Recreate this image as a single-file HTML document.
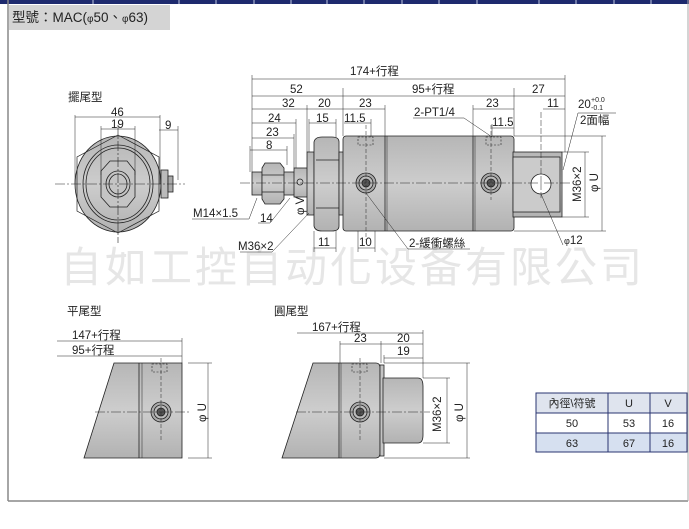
<!DOCTYPE html>
<html><head><meta charset="utf-8"><style>
html,body{margin:0;padding:0;background:#fff;}
svg{display:block;}
text{font-family:"Liberation Sans","Noto Sans CJK TC",sans-serif;fill:#222;}
</style></head><body>
<svg width="689" height="529" viewBox="0 0 689 529" xmlns="http://www.w3.org/2000/svg">
<defs>
<linearGradient id="g" x1="0" y1="0" x2="0" y2="1"><stop offset="0" stop-color="#b6b6b6"/><stop offset=".5" stop-color="#cdcdcd"/><stop offset="1" stop-color="#b2b2b2"/></linearGradient>
</defs>
<rect x="0" y="0" width="689" height="4" fill="#1e2a6e"/>
<g stroke="#c0c8e0" stroke-width="1">
<line x1="93" y1="0" x2="93" y2="4"/><line x1="179" y1="0" x2="179" y2="4"/><line x1="216" y1="0" x2="216" y2="4"/><line x1="254" y1="0" x2="254" y2="4"/><line x1="291" y1="0" x2="291" y2="4"/><line x1="327" y1="0" x2="327" y2="4"/><line x1="364" y1="0" x2="364" y2="4"/><line x1="402" y1="0" x2="402" y2="4"/><line x1="439" y1="0" x2="439" y2="4"/><line x1="477" y1="0" x2="477" y2="4"/><line x1="539" y1="0" x2="539" y2="4"/><line x1="576" y1="0" x2="576" y2="4"/><line x1="614" y1="0" x2="614" y2="4"/><line x1="651" y1="0" x2="651" y2="4"/>
</g>
<line x1="8" y1="0" x2="8" y2="501" stroke="#888" stroke-width="1.5"/>
<line x1="8" y1="501" x2="688" y2="501" stroke="#888" stroke-width="1.5"/>
<line x1="688" y1="0" x2="688" y2="501" stroke="#aaa" stroke-width="1"/>
<rect x="9" y="5" width="161" height="25" fill="#d4d4d4"/>
<text x="12" y="22" font-size="13.5">型號：MAC(<tspan font-size="10">φ</tspan>50、<tspan font-size="10">φ</tspan>63)</text>

<text x="60" y="282" font-size="42" style="fill:#e6e6e6" letter-spacing="3">自如工控自动化设备有限公司</text>

<g stroke="#222" stroke-width="0.8" fill="none">
<ellipse cx="118" cy="184" rx="43" ry="48" fill="url(#g)"/>
<polygon points="118,135 159,157 159,211 118,233 77,211 77,157" stroke-width="0.7"/>
<ellipse cx="118" cy="184" rx="35" ry="39"/>
<ellipse cx="118" cy="184" rx="32" ry="36"/>
<polygon points="101,171 110,161 127,161 135,171 135,197 127,207 110,207 101,197" fill="#c4c4c4"/>
<ellipse cx="118" cy="184" rx="12" ry="13"/>
<ellipse cx="118" cy="184" rx="9" ry="10"/>
<rect x="161" y="170" width="7" height="28" fill="#bbb"/>
<rect x="168" y="176" width="5" height="16" fill="#aaa"/>
<line x1="55" y1="184" x2="185" y2="184" stroke-dasharray="10,2,2,2" stroke-width="0.6"/>
<line x1="118" y1="125" x2="118" y2="243" stroke-dasharray="10,2,2,2" stroke-width="0.6"/>
<line x1="75" y1="115" x2="75" y2="184" stroke-width="0.5"/><line x1="160" y1="115" x2="160" y2="184" stroke-width="0.5"/>
<line x1="75" y1="117" x2="160" y2="117" stroke-width="0.5"/>
<line x1="101" y1="126" x2="101" y2="175" stroke-width="0.5"/><line x1="135" y1="126" x2="135" y2="175" stroke-width="0.5"/>
<line x1="101" y1="129" x2="135" y2="129" stroke-width="0.5"/>
<line x1="178" y1="126" x2="178" y2="180" stroke-width="0.5"/>
<line x1="159" y1="130" x2="178" y2="130" stroke-width="0.5"/>

<rect x="252" y="172" width="10" height="23" fill="url(#g)"/>
<rect x="283" y="172" width="12" height="23" fill="url(#g)"/>
<path d="M262,168 L265,163 L280,163 L284,168 L284,199 L280,204 L265,204 L262,199 Z" fill="url(#g)"/>
<line x1="262" y1="175" x2="284" y2="175"/><line x1="262" y1="192" x2="284" y2="192"/>
<rect x="294" y="168" width="15" height="29" fill="url(#g)"/>
<circle cx="300" cy="182" r="3"/>
<rect x="307" y="152" width="7" height="63" fill="url(#g)"/>
<path d="M314,142 Q315,137 322,137 L332,137 Q339,137 339,142 L339,226 Q339,231 332,231 L322,231 Q315,231 314,226 Z" fill="url(#g)"/>
<line x1="316" y1="160" x2="339" y2="160"/><line x1="316" y1="208" x2="339" y2="208"/>
<rect x="339" y="152" width="5" height="63" fill="url(#g)"/>
<rect x="343" y="136" width="171" height="95" rx="3" fill="url(#g)"/>
<line x1="385" y1="136" x2="385" y2="231"/><line x1="387" y1="136" x2="387" y2="231" stroke-width="0.5"/>
<line x1="473" y1="136" x2="473" y2="231"/><line x1="475" y1="136" x2="475" y2="231" stroke-width="0.5"/>
<rect x="358" y="137" width="15" height="8" stroke-dasharray="2,1.5" stroke-width="0.6"/>
<rect x="486" y="137" width="15" height="8" stroke-dasharray="2,1.5" stroke-width="0.6"/>
<g fill="#aaa"><circle cx="366" cy="183" r="10"/><circle cx="366" cy="183" r="7" fill="#bbb"/><circle cx="366" cy="183" r="4" fill="#555"/></g>
<g fill="#aaa"><circle cx="491" cy="183" r="10"/><circle cx="491" cy="183" r="7" fill="#bbb"/><circle cx="491" cy="183" r="4" fill="#555"/></g>
<rect x="513" y="152" width="49" height="65" fill="url(#g)"/>
<rect x="513" y="157" width="47" height="55" fill="#cbcbcb"/>
<circle cx="541" cy="184" r="10" fill="#fff"/>
<line x1="240" y1="183" x2="570" y2="183" stroke-dasharray="10,2,2,2" stroke-width="0.6"/>
<line x1="366" y1="125" x2="366" y2="240" stroke-dasharray="4,2" stroke-width="0.5"/>
<line x1="491" y1="125" x2="491" y2="200" stroke-dasharray="4,2" stroke-width="0.5"/>
<line x1="541" y1="112" x2="541" y2="200" stroke-dasharray="6,2" stroke-width="0.5"/>

<g stroke-width="0.5">
<line x1="252" y1="75" x2="252" y2="172"/><line x1="565" y1="75" x2="565" y2="152"/>
<line x1="252" y1="79" x2="565" y2="79"/>
<line x1="252" y1="96" x2="565" y2="96"/>
<line x1="343" y1="88" x2="343" y2="136"/><line x1="514" y1="88" x2="514" y2="136"/>
<line x1="252" y1="109" x2="385" y2="109"/>
<line x1="307" y1="105" x2="307" y2="152"/><line x1="385" y1="105" x2="385" y2="136"/>
<line x1="473" y1="109" x2="514" y2="109"/><line x1="473" y1="105" x2="473" y2="136"/>
<line x1="543" y1="109" x2="565" y2="109"/>
<line x1="252" y1="123" x2="296" y2="123"/><line x1="296" y1="119" x2="296" y2="168"/>
<line x1="309" y1="123" x2="336" y2="123"/><line x1="336" y1="119" x2="336" y2="137"/><line x1="309" y1="119" x2="309" y2="152"/>
<line x1="344" y1="123" x2="371" y2="123"/><line x1="371" y1="119" x2="371" y2="137"/>
<line x1="492" y1="128" x2="514" y2="128"/><line x1="492" y1="124" x2="492" y2="137"/>
<line x1="252" y1="138" x2="294" y2="138"/><line x1="294" y1="134" x2="294" y2="168"/>
<line x1="250" y1="150" x2="287" y2="150"/><line x1="250" y1="146" x2="250" y2="172"/><line x1="287" y1="146" x2="287" y2="165"/>
<line x1="514" y1="136" x2="606" y2="136"/><line x1="514" y1="231" x2="606" y2="231"/>
<line x1="602" y1="136" x2="602" y2="231"/>
<line x1="562" y1="152" x2="589" y2="152"/><line x1="562" y1="217" x2="589" y2="217"/>
<line x1="585" y1="152" x2="585" y2="217"/>
<polyline points="413,118 464,118 492,137"/>
<polyline points="578,113 616,113"/><line x1="578" y1="113" x2="563" y2="170"/>
<line x1="541" y1="194" x2="563" y2="245"/>
<polyline points="192,219 249,219 257,198"/>
<polyline points="258,223 270,223 290,198"/>
<polyline points="240,252 272,252 309,213"/>
<polyline points="408,249 470,249"/><line x1="408" y1="249" x2="366" y2="193"/>
<line x1="314" y1="231" x2="314" y2="252"/><line x1="336" y1="231" x2="336" y2="252"/><line x1="314" y1="248" x2="336" y2="248"/>
<line x1="358" y1="231" x2="358" y2="252"/><line x1="375" y1="231" x2="375" y2="252"/><line x1="358" y1="248" x2="375" y2="248"/>
</g>

<polygon points="114,363 182,363 182,458 84,458" fill="url(#g)"/>
<line x1="139" y1="363" x2="139" y2="458"/><line x1="142" y1="363" x2="142" y2="458" stroke-width="0.5"/>
<rect x="152" y="364" width="15" height="8" stroke-dasharray="2,1.5" stroke-width="0.6"/>
<g fill="#aaa"><circle cx="161" cy="412" r="10"/><circle cx="161" cy="412" r="7" fill="#bbb"/><circle cx="161" cy="412" r="4" fill="#555"/></g>
<line x1="95" y1="412" x2="190" y2="412" stroke-dasharray="10,2,2,2" stroke-width="0.6"/>
<line x1="161" y1="358" x2="161" y2="440" stroke-dasharray="4,2" stroke-width="0.5"/>
<g stroke-width="0.5">
<line x1="57" y1="341" x2="182" y2="341"/><line x1="57" y1="356" x2="182" y2="356"/><line x1="182" y1="338" x2="182" y2="363"/>
<line x1="188" y1="363" x2="212" y2="363"/><line x1="188" y1="458" x2="212" y2="458"/><line x1="208" y1="363" x2="208" y2="458"/>
</g>

<path d="M313,363 L376,363 Q380,363 380,368 L380,453 Q380,458 376,458 L282,458 Z" fill="url(#g)"/>
<line x1="339" y1="363" x2="339" y2="458"/><line x1="341" y1="363" x2="341" y2="458" stroke-width="0.5"/>
<rect x="380" y="365" width="4" height="91" fill="#c4c4c4"/>
<path d="M383,378 L418,378 Q423,378 423,386 L423,435 Q423,443 418,443 L383,443 Z" fill="url(#g)"/>
<rect x="352" y="364" width="15" height="8" stroke-dasharray="2,1.5" stroke-width="0.6"/>
<g fill="#aaa"><circle cx="360" cy="412" r="10"/><circle cx="360" cy="412" r="7" fill="#bbb"/><circle cx="360" cy="412" r="4" fill="#555"/></g>
<line x1="296" y1="412" x2="430" y2="412" stroke-dasharray="10,2,2,2" stroke-width="0.6"/>
<line x1="360" y1="358" x2="360" y2="440" stroke-dasharray="4,2" stroke-width="0.5"/>
<g stroke-width="0.5">
<line x1="297" y1="333" x2="423" y2="333"/><line x1="423" y1="330" x2="423" y2="378"/>
<line x1="340" y1="344" x2="423" y2="344"/><line x1="340" y1="341" x2="340" y2="363"/><line x1="381" y1="341" x2="381" y2="363"/>
<line x1="384" y1="358" x2="423" y2="358"/><line x1="384" y1="355" x2="384" y2="363"/>
<line x1="423" y1="378" x2="450" y2="378"/><line x1="423" y1="443" x2="450" y2="443"/><line x1="447" y1="378" x2="447" y2="443"/>
<line x1="384" y1="363" x2="470" y2="363"/><line x1="384" y1="458" x2="470" y2="458"/><line x1="467" y1="363" x2="467" y2="458"/>
</g>
</g>

<g font-size="11.5">
<text x="68" y="101">擺尾型</text>
<text x="111" y="116">46</text><text x="111" y="128">19</text><text x="165" y="129">9</text>
<text x="350" y="75">174+行程</text>
<text x="290" y="93">52</text><text x="412" y="93">95+行程</text><text x="532" y="93">27</text>
<text x="282" y="107">32</text><text x="318" y="107">20</text><text x="359" y="107">23</text>
<text x="486" y="107">23</text><text x="547" y="107">11</text>
<text x="578" y="108">20</text><text x="591" y="102" font-size="7">+0.0</text><text x="591" y="110" font-size="7">-0.1</text>
<text x="414" y="116">2-PT1/4</text>
<text x="580" y="124">2面幅</text>
<text x="268" y="122">24</text><text x="316" y="122">15</text><text x="344" y="122">11.5</text>
<text x="492" y="126">11.5</text>
<text x="266" y="136">23</text><text x="266" y="149">8</text>
<text x="193" y="217">M14×1.5</text>
<text x="260" y="222">14</text>
<text x="238" y="250">M36×2</text>
<text x="318" y="246">11</text><text x="359" y="246">10</text>
<text x="409" y="247">2-緩衝螺絲</text>
<text x="564" y="244"><tspan font-size="9">φ</tspan>12</text>
<text transform="translate(304,215) rotate(-90)">φ V</text>
<text transform="translate(581,202) rotate(-90)">M36×2</text>
<text transform="translate(598,192) rotate(-90)">φ U</text>
<text x="67" y="315">平尾型</text>
<text x="72" y="339">147+行程</text><text x="72" y="354">95+行程</text>
<text transform="translate(206,422) rotate(-90)">φ U</text>
<text x="274" y="315">圓尾型</text>
<text x="312" y="331">167+行程</text>
<text x="354" y="342">23</text><text x="397" y="342">20</text><text x="397" y="355">19</text>
<text transform="translate(441,432) rotate(-90)">M36×2</text>
<text transform="translate(463,422) rotate(-90)">φ U</text>
</g>

<rect x="536" y="393" width="151" height="20" fill="#dfe4ee"/>
<rect x="536" y="433" width="151" height="19" fill="#d6e0f0"/>
<g stroke="#2a3470" stroke-width="1" fill="none">
<rect x="536" y="393" width="151" height="59"/>
<line x1="536" y1="413" x2="687" y2="413"/><line x1="536" y1="433" x2="687" y2="433"/>
<line x1="608" y1="393" x2="608" y2="452"/><line x1="650" y1="393" x2="650" y2="452"/>
</g>
<g font-size="11" text-anchor="middle">
<text x="572" y="407">內徑\符號</text><text x="629" y="407">U</text><text x="668" y="407">V</text>
<text x="572" y="427">50</text><text x="629" y="427">53</text><text x="668" y="427">16</text>
<text x="572" y="447">63</text><text x="629" y="447">67</text><text x="668" y="447">16</text>
</g>
</svg>
</body></html>
